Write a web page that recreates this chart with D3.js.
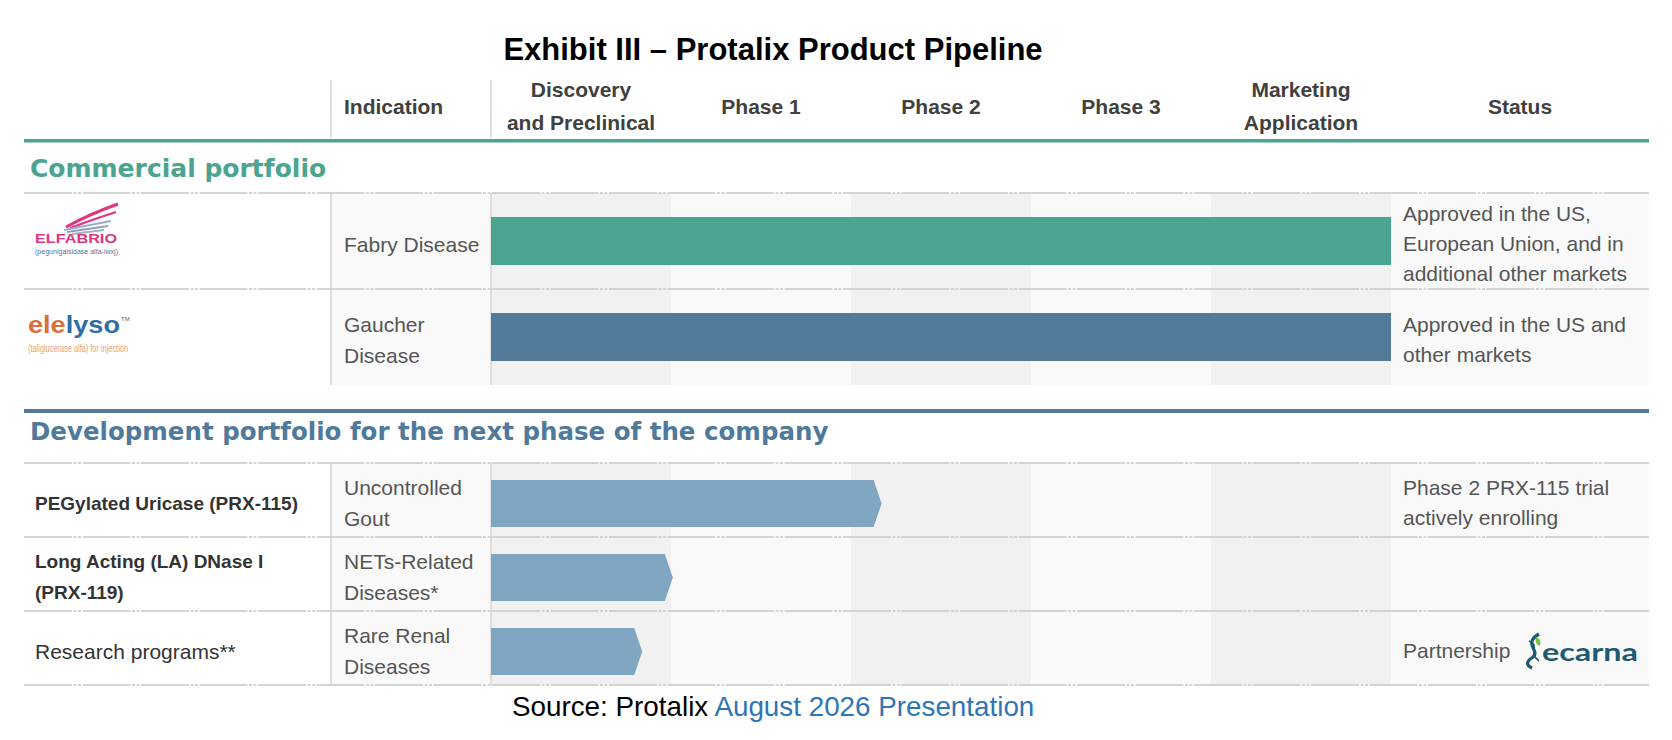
<!DOCTYPE html>
<html>
<head>
<meta charset="utf-8">
<script src="https://cdn.jsdelivr.net/npm/d3@7"></script>
<style>
  html, body { margin: 0; padding: 0; background: #fff; }
  svg { display: block; font-family: Arial, 'Liberation Sans', sans-serif; }
</style>
</head>
<body>
<svg id="chart"></svg>
<script>
// ---- data ----
const phaseLabels = [["Discovery", "and Preclinical"], ["Phase 1"], ["Phase 2"], ["Phase 3"], ["Marketing", "Application"]];
const comProducts = ["ELFABRIO", "elelyso"];
const comIndications = [["Fabry Disease"], ["Gaucher", "Disease"]];
const comProgress = [5, 5];
const comStatus = [["Approved in the US,", "European Union, and in", "additional other markets"], ["Approved in the US and", "other markets"]];
const devProducts = [["PEGylated Uricase (PRX-115)"], ["Long Acting (LA) DNase I", "(PRX-119)"], ["Research programs**"]];
const devBold = [true, true, false];
const devIndications = [["Uncontrolled", "Gout"], ["NETs-Related", "Diseases*"], ["Rare Renal", "Diseases"]];
const devProgress = [2.17, 1.01, 0.84];
const devStatus = [["Phase 2 PRX-115 trial", "actively enrolling"], [], ["Partnership"]];

const W = 1672, H = 740;
const left = 24, right = 1649, nameEnd = 331, indEnd = 491;
const teal = "#4ba48f", slate = "#527a9b", light = "#7fa5c0";

const svg = d3.select("#chart").attr("width", W).attr("height", H);

const x = d3.scaleLinear().domain([0, 5]).range([indEnd, 1391]);
const yCom = d3.scaleBand().domain(d3.range(comProducts.length)).range([193, 385]);
const yDev = d3.scaleBand().domain(d3.range(devProducts.length)).range([463, 685]);

// multi-line text centred on cy
function lines(g, arr, tx, cy, opts) {
  const lh = opts.lh || 31;
  const t = g.append("text")
    .attr("x", tx)
    .attr("text-anchor", opts.anchor || "start")
    .attr("font-size", opts.size || 21)
    .attr("font-weight", opts.weight || "normal")
    .attr("fill", opts.fill || "#555");
  arr.forEach((s, i) => {
    t.append("tspan").attr("x", tx)
      .attr("y", cy + (i - (arr.length - 1) / 2) * lh + (opts.size || 21) * 0.36)
      .text(s);
  });
  return t;
}

// ---- title ----
svg.append("text").attr("x", 773).attr("y", 60).attr("text-anchor", "middle")
  .attr("font-size", 31).attr("font-weight", "bold").attr("fill", "#000")
  .text("Exhibit III \u2013 Protalix Product Pipeline");

// ---- header ----
const head = svg.append("g");
lines(head, ["Indication"], 344, 106, {weight: "bold", fill: "#404040"});
phaseLabels.forEach((l, i) => {
  lines(head, l, (x(i) + x(i + 1)) / 2, 106, {weight: "bold", fill: "#404040", anchor: "middle", lh: 33});
});
lines(head, ["Status"], (1391 + right) / 2, 106, {weight: "bold", fill: "#404040", anchor: "middle"});
[nameEnd, indEnd].forEach(v => head.append("line").attr("x1", v).attr("x2", v).attr("y1", 80).attr("y2", 138)
  .attr("stroke", "#d4d4d4").attr("stroke-width", 1.5));
svg.append("rect").attr("x", left).attr("y", 139).attr("width", right - left).attr("height", 3.5).attr("fill", teal);

// ---- section builder ----
function section(top, bottom) {
  const g = svg.append("g");
  g.append("rect").attr("x", nameEnd).attr("y", top).attr("width", indEnd - nameEnd).attr("height", bottom - top).attr("fill", "#f9f9f9");
  d3.range(5).forEach(i => g.append("rect").attr("x", x(i)).attr("y", top)
    .attr("width", x(i + 1) - x(i)).attr("height", bottom - top)
    .attr("fill", i % 2 === 0 ? "#f1f1f1" : "#f9f9f9"));
  g.append("rect").attr("x", x(5)).attr("y", top).attr("width", right - x(5)).attr("height", bottom - top).attr("fill", "#f9f9f9");
  [nameEnd, indEnd].forEach(v => g.append("line").attr("x1", v).attr("x2", v).attr("y1", top).attr("y2", bottom)
    .attr("stroke", "#d4d4d4").attr("stroke-width", 1.5));
  return g;
}
function rowLine(g, yy) {
  g.append("line").attr("x1", left).attr("x2", right).attr("y1", yy).attr("y2", yy)
    .attr("stroke", "#c8c8c8").attr("stroke-width", 1.5).attr("stroke-dasharray", "48,1.5,3,1.5,3,1.5");
}

// ---- commercial portfolio ----
svg.append("text").attr("x", 30).attr("y", 177).attr("font-family", "'DejaVu Sans', Verdana, sans-serif")
  .attr("font-size", 25).attr("font-weight", "bold").attr("fill", teal).text("Commercial portfolio");

const com = section(193, 385);
[0, 1].forEach(i => rowLine(com, yCom(i)));
com.selectAll("rect.bar").data(comProgress).join("rect").attr("class", "bar")
  .attr("x", x(0)).attr("y", (d, i) => yCom(i) + 24)
  .attr("width", d => x(d) - x(0)).attr("height", 48)
  .attr("fill", (d, i) => i === 0 ? teal : slate);
comIndications.forEach((l, i) => lines(com, l, 344, yCom(i) + yCom.bandwidth() / 2 + 3, {}));
comStatus.forEach((l, i) => lines(com, l, 1403, yCom(i) + yCom.bandwidth() / 2 + 2, {lh: 30}));

// logos (drawn as text + strokes)
const lg = svg.append("g");
lg.append("path").attr("d", "M66,227 Q92,213 118,204").attr("stroke", "#e0357f").attr("stroke-width", 3).attr("fill", "none");
lg.append("path").attr("d", "M70,228 Q94,219 116,212").attr("stroke", "#e0357f").attr("stroke-width", 2.2).attr("fill", "none");
lg.append("path").attr("d", "M64,230 L111,221").attr("stroke", "#9aaccc").attr("stroke-width", 2).attr("fill", "none");
lg.append("path").attr("d", "M67,232 L108,226").attr("stroke", "#8ea0bb").attr("stroke-width", 2).attr("fill", "none");
lg.append("path").attr("d", "M72,234 L104,230").attr("stroke", "#9fb0c8").attr("stroke-width", 1.8).attr("fill", "none");
lg.append("text").attr("x", 35).attr("y", 243).attr("font-size", 12.5).attr("font-weight", "bold")
  .attr("textLength", 82).attr("lengthAdjust", "spacingAndGlyphs").attr("fill", "#e0357f").text("ELFABRIO");
lg.append("text").attr("x", 35).attr("y", 254).attr("font-size", 7.5)
  .attr("textLength", 83).attr("lengthAdjust", "spacingAndGlyphs").attr("fill", "#5b6f99").text("(pegunigalsidase alfa-iwxj)");
const el = lg.append("text").attr("x", 28).attr("y", 333).attr("font-size", 24).attr("font-weight", "bold")
  .attr("textLength", 92).attr("lengthAdjust", "spacingAndGlyphs");
el.append("tspan").attr("fill", "#d9703a").text("ele");
el.append("tspan").attr("fill", "#2f6da5").text("lyso");
lg.append("text").attr("x", 121).attr("y", 321).attr("font-size", 6).attr("fill", "#2f6da5").text("TM");
lg.append("text").attr("x", 28).attr("y", 352).attr("font-size", 11)
  .attr("textLength", 100).attr("lengthAdjust", "spacingAndGlyphs").attr("fill", "#e8a07c").text("(taliglucerase alfa) for injection");

// ---- development portfolio ----
svg.append("rect").attr("x", left).attr("y", 409).attr("width", right - left).attr("height", 4).attr("fill", slate);
svg.append("text").attr("x", 30).attr("y", 440).attr("font-family", "'DejaVu Sans', Verdana, sans-serif")
  .attr("font-size", 24.5).attr("font-weight", "bold").attr("fill", "#4f7a9b")
  .text("Development portfolio for the next phase of the company");

const dev = section(463, 685);
d3.range(4).forEach(i => rowLine(dev, i < 3 ? yDev(i) : yDev(2) + yDev.bandwidth()));
const bh = 47, tip = 8;
dev.selectAll("path.bar").data(devProgress).join("path").attr("class", "bar")
  .attr("d", (d, i) => {
    const y0 = yDev(i) + 17, xe = x(d), xs = x(0);
    return `M${xs},${y0}L${xe - tip},${y0}L${xe},${y0 + bh / 2}L${xe - tip},${y0 + bh}L${xs},${y0 + bh}Z`;
  })
  .attr("fill", light);
devProducts.forEach((l, i) => lines(dev, l, 35, yDev(i) + yDev.bandwidth() / 2 + 3,
  devBold[i] ? {weight: "bold", size: 19, fill: "#333"} : {fill: "#333"}));
devIndications.forEach((l, i) => lines(dev, l, 344, yDev(i) + yDev.bandwidth() / 2 + 3, {}));
devStatus.forEach((l, i) => lines(dev, l, 1403, yDev(i) + yDev.bandwidth() / 2 + 2, {lh: 30}));

// ecarna logo
const ec = svg.append("g");
ec.append("path").attr("d", "M1539,634 C1522,644 1541,651 1533,657 C1525,662 1527,666 1532,668")
  .attr("stroke", "#1d5a70").attr("stroke-width", 3.2).attr("fill", "none");
ec.append("path").attr("d", "M1529,641 C1541,646 1527,652 1539,661").attr("stroke", "#1d5a70").attr("stroke-width", 1.6).attr("fill", "none");
ec.append("path").attr("d", "M1536,637 q6,2 4,9 q-6,-2 -4,-9z").attr("fill", "#7cc24a");
ec.append("text").attr("x", 1542).attr("y", 661).attr("font-family", "Lato, 'Open Sans', sans-serif")
  .attr("font-size", 24).attr("font-weight", "bold").attr("textLength", 96).attr("lengthAdjust", "spacingAndGlyphs")
  .attr("fill", "#1d5a70").text("ecarna");

// ---- source ----
const src = svg.append("text").attr("x", 512).attr("y", 716).attr("font-size", 27.8).attr("fill", "#000");
src.append("tspan").text("Source: Protalix ");
src.append("tspan").attr("fill", "#2e75b6").text("August 2026 Presentation");
</script>
</body>
</html>
